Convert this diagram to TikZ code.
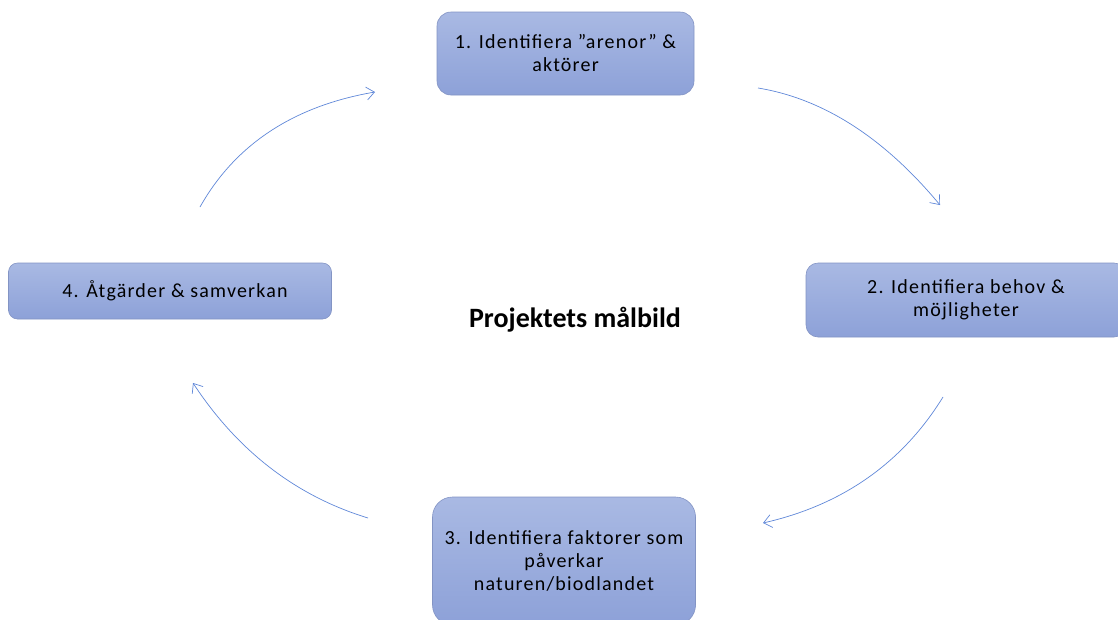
\documentclass[tikz,border=0pt]{standalone}
\usepackage{fontspec}
\setmainfont{Carlito}
\newfontfamily\boxfont{Carlito}[LetterSpace=6]
\usetikzlibrary{arrows.meta}
\definecolor{boxtop}{HTML}{A9B9E3}
\definecolor{boxbot}{HTML}{8DA1D8}
\definecolor{boxline}{HTML}{8394C4}
\definecolor{arrowblue}{HTML}{5F87D8}
\tikzset{
  stage/.style={draw=boxline, line width=0.6pt, top color=boxtop, bottom color=boxbot,
    align=center, inner sep=0pt, font=\boxfont\fontsize{20}{23}\selectfont, text=black},
  cyc/.style={draw=arrowblue, line width=0.7pt, -{Straight Barb[length=8pt,width=13pt,line width=0.7pt]}}
}
\begin{document}
\begin{tikzpicture}[x=1pt,y=-1pt]
\useasboundingbox (0,0) rectangle (1118,619);
\node[stage, minimum width=257pt, minimum height=83pt, rounded corners=14pt] (s1) at (565.5,53.5) {1. Identifiera ”arenor” \&\\aktörer};
\node[stage, minimum width=320pt, minimum height=74pt, rounded corners=12pt] (s2) at (966,300) {2. Identifiera behov \&\\möjligheter};
\node[stage, minimum width=263pt, minimum height=128pt, rounded corners=20pt] (s3) at (564,561) {3. Identifiera faktorer som\\påverkar\\naturen/biodlandet};
\node[stage, minimum width=323pt, minimum height=56pt, rounded corners=9pt] (s4) at (170,291) {\hspace*{10pt}4. Åtgärder \& samverkan};
\node[font=\bfseries\fontsize{28}{33}\selectfont] (goal) at (575,320) {Projektets målbild};
\coordinate (a1s) at (200,207); \coordinate (a1e) at (375,92);
\coordinate (a2s) at (758,88);  \coordinate (a2e) at (940,205);
\coordinate (a3s) at (943,397); \coordinate (a3e) at (763,523);
\coordinate (a4s) at (368,518); \coordinate (a4e) at (193,383);
\draw[cyc] (a1s) .. controls (235.3,144.3) and (293.7,106) .. (a1e);
\draw[cyc] (a2s) .. controls (823.3,98.7) and (884,137.7) .. (a2e);
\draw[cyc] (a3s) .. controls (902.3,463) and (842.3,505) .. (a3e);
\draw[cyc] (a4s) .. controls (296,496) and (237.7,451) .. (a4e);
\end{tikzpicture}
\end{document}
